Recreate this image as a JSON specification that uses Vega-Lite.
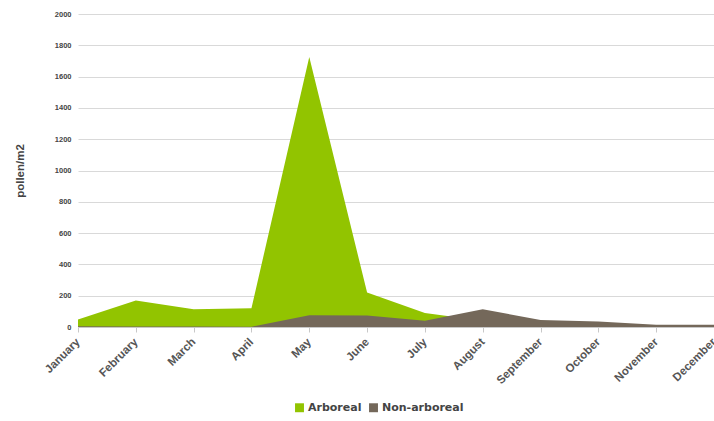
{
  "$schema": "https://vega.github.io/schema/vega-lite/v6.json",
  "width": 636,
  "height": 313,
  "autosize": {"type": "none"},
  "padding": {"left": 78, "top": 14, "right": 0, "bottom": 94},
  "background": "white",
  "config": {
    "view": {"stroke": null},
    "font": "Liberation Sans"
  },
  "data": {
    "values": [
      {"month": "January", "type": "Arboreal", "value": 48},
      {"month": "February", "type": "Arboreal", "value": 170},
      {"month": "March", "type": "Arboreal", "value": 113},
      {"month": "April", "type": "Arboreal", "value": 120},
      {"month": "May", "type": "Arboreal", "value": 1725},
      {"month": "June", "type": "Arboreal", "value": 220},
      {"month": "July", "type": "Arboreal", "value": 90},
      {"month": "August", "type": "Arboreal", "value": 40},
      {"month": "September", "type": "Arboreal", "value": 30},
      {"month": "October", "type": "Arboreal", "value": 25},
      {"month": "November", "type": "Arboreal", "value": 10},
      {"month": "December", "type": "Arboreal", "value": 10},
      {"month": "January", "type": "Non-arboreal", "value": 5},
      {"month": "February", "type": "Non-arboreal", "value": 3},
      {"month": "March", "type": "Non-arboreal", "value": 3},
      {"month": "April", "type": "Non-arboreal", "value": 2},
      {"month": "May", "type": "Non-arboreal", "value": 75},
      {"month": "June", "type": "Non-arboreal", "value": 73},
      {"month": "July", "type": "Non-arboreal", "value": 40},
      {"month": "August", "type": "Non-arboreal", "value": 113},
      {"month": "September", "type": "Non-arboreal", "value": 45},
      {"month": "October", "type": "Non-arboreal", "value": 35},
      {"month": "November", "type": "Non-arboreal", "value": 15},
      {"month": "December", "type": "Non-arboreal", "value": 15}
    ]
  },
  "mark": {"type": "area", "opacity": 1},
  "encoding": {
    "x": {
      "field": "month",
      "type": "ordinal",
      "sort": null,
      "scale": {"type": "point", "padding": 0},
      "axis": {
        "title": null,
        "labelAngle": -45,
        "labelAlign": "right",
        "labelBaseline": "middle",
        "labelFontSize": 11.5,
        "labelFontWeight": "bold",
        "labelColor": "#555555",
        "labelPadding": 8,
        "labelBound": false,
        "domainColor": "#c8c8c8",
        "tickColor": "#c8c8c8",
        "tickSize": 5,
        "grid": false
      }
    },
    "y": {
      "field": "value",
      "type": "quantitative",
      "stack": null,
      "scale": {"domain": [0, 2000]},
      "axis": {
        "title": "pollen/m2",
        "titleFontSize": 11.5,
        "titleFontWeight": "bold",
        "titleColor": "#444444",
        "titlePadding": 29,
        "values": [0, 200, 400, 600, 800, 1000, 1200, 1400, 1600, 1800, 2000],
        "format": "d",
        "labelFontSize": 7.5,
        "labelFontWeight": "bold",
        "labelColor": "#444444",
        "labelPadding": 7,
        "ticks": false,
        "domain": false,
        "gridColor": "#d9d9d9",
        "gridWidth": 1
      }
    },
    "color": {
      "field": "type",
      "type": "nominal",
      "scale": {"domain": ["Arboreal", "Non-arboreal"], "range": ["#92c400", "#74685a"]},
      "legend": {
        "title": null,
        "orient": "none",
        "direction": "horizontal",
        "legendX": 216,
        "legendY": 388,
        "symbolType": "square",
        "symbolSize": 80,
        "symbolStrokeWidth": 0,
        "labelFont": "DejaVu Sans",
        "labelFontWeight": "bold",
        "labelFontSize": 11,
        "labelColor": "#444444",
        "columnPadding": 6,
        "labelOffset": 3
      }
    },
    "order": {"field": "type", "sort": "ascending"}
  }
}
